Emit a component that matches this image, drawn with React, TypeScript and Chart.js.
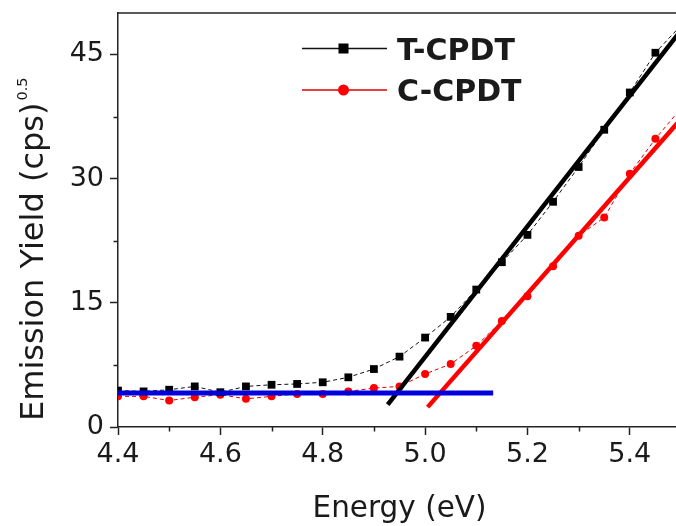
import React, { useEffect, useRef } from 'react';
import { Chart, registerables } from 'chart.js';

Chart.register(...registerables);

// ---- data ----
const energy = [4.40, 4.45, 4.50, 4.55, 4.60, 4.65, 4.70, 4.75, 4.80, 4.85, 4.90, 4.95, 5.00, 5.05, 5.10, 5.15, 5.20, 5.25, 5.30, 5.35, 5.40, 5.45, 5.50];
const tcpdt = [4.4, 4.3, 4.5, 4.9, 4.2, 4.9, 5.1, 5.2, 5.4, 6.0, 7.0, 8.5, 10.8, 13.3, 16.6, 19.9, 23.2, 27.2, 31.4, 35.9, 40.4, 45.2, 48.5];
const ccpdt = [3.7, 3.7, 3.2, 3.6, 3.9, 3.4, 3.7, 4.0, 4.0, 4.3, 4.7, 4.9, 6.4, 7.6, 9.8, 12.8, 15.8, 19.4, 23.1, 25.3, 30.6, 34.8, 38.5];
const baseX = [4.40, 5.133];
const baseY = [4.1, 4.1];
const tFitX = [4.927, 5.50];
const tFitY = [2.7, 47.9];
const cFitX = [5.005, 5.50];
const cFitY = [2.4, 37.2];
const seriesNames = ['T-CPDT', 'C-CPDT'];
const xTicks = [4.4, 4.6, 4.8, 5.0, 5.2, 5.4];
const xMinor = [4.5, 4.7, 4.9, 5.1, 5.3, 5.5];
const yTicks = [0, 15, 30, 45];
const yMinor = [7.5, 22.5, 37.5];
const xTitle = 'Energy (eV)';
const yTitle = 'Emission Yield (cps)';
const yTitleSup = '0.5';

const pts = (xs: number[], ys: number[]) => xs.map((x, i) => ({ x, y: ys[i] }));

const FONT = '"DejaVu Sans", "Liberation Sans", Arial, sans-serif';
const AXIS = '#222';
const TEXT = '#1a1a1a';

const decor = {
  id: 'decor',
  afterDraw(chart: any) {
    const { ctx, chartArea: ca, scales } = chart;
    const xs = scales.x;
    const ys = scales.y;
    ctx.save();
    ctx.strokeStyle = AXIS;
    ctx.lineWidth = 1.5;
    // top frame
    ctx.beginPath();
    ctx.moveTo(ca.left, ca.top);
    ctx.lineTo(ca.right, ca.top);
    ctx.stroke();
    // minor ticks
    ctx.beginPath();
    xMinor.forEach((v) => {
      const px = Math.round(xs.getPixelForValue(v)) + 0.5;
      ctx.moveTo(px, ca.bottom);
      ctx.lineTo(px, ca.bottom + 4.5);
    });
    yMinor.forEach((v) => {
      const py = Math.round(ys.getPixelForValue(v)) + 0.5;
      ctx.moveTo(ca.left - 4.5, py);
      ctx.lineTo(ca.left, py);
    });
    ctx.stroke();

    // axis titles
    ctx.fillStyle = TEXT;
    ctx.font = `29.5px ${FONT}`;
    ctx.textAlign = 'center';
    ctx.textBaseline = 'alphabetic';
    ctx.fillText(xTitle, (ca.left + ca.right) / 2, 517);

    ctx.save();
    ctx.translate(42.5, 421);
    ctx.rotate(-Math.PI / 2);
    ctx.textAlign = 'left';
    ctx.font = `32px ${FONT}`;
    ctx.fillText(yTitle, 0, 0);
    const w = ctx.measureText(yTitle).width;
    ctx.font = `14.5px ${FONT}`;
    ctx.fillText(yTitleSup, w + 2, -15.5);
    ctx.restore();

    // legend
    const rows = [48.5, 90];
    const metas = [chart.data.datasets[3], chart.data.datasets[4]];
    metas.forEach((ds: any, i: number) => {
      const y = rows[i];
      ctx.strokeStyle = ds.borderColor;
      ctx.lineWidth = 1.5;
      ctx.setLineDash([]);
      ctx.beginPath();
      ctx.moveTo(302, y);
      ctx.lineTo(387, y);
      ctx.stroke();
      ctx.fillStyle = ds.backgroundColor;
      if (i === 0) {
        ctx.fillRect(338.5, y - 5, 10, 10);
      } else {
        ctx.beginPath();
        ctx.arc(343.5, y, 5.5, 0, Math.PI * 2);
        ctx.fill();
      }
      ctx.fillStyle = TEXT;
      ctx.font = `bold 30px ${FONT}`;
      ctx.textAlign = 'left';
      ctx.fillText(seriesNames[i], 397, y + 11);
    });
    ctx.restore();
  },
};

export default function App() {
  const ref = useRef<HTMLCanvasElement | null>(null);

  useEffect(() => {
    if (!ref.current) return;
    const chart = new Chart(ref.current, {
      type: 'line',
      data: {
        datasets: [
          {
            label: 'baseline',
            data: pts(baseX, baseY),
            borderColor: '#0000dc',
            borderWidth: 5,
            pointRadius: 0,
          },
          {
            label: 'T-CPDT fit',
            data: pts(tFitX, tFitY),
            borderColor: '#000000',
            borderWidth: 4.5,
            pointRadius: 0,
          },
          {
            label: 'C-CPDT fit',
            data: pts(cFitX, cFitY),
            borderColor: '#ff0000',
            borderWidth: 4.5,
            pointRadius: 0,
          },
          {
            label: seriesNames[0],
            data: pts(energy, tcpdt),
            borderColor: '#111111',
            backgroundColor: '#000000',
            borderWidth: 1,
            borderDash: [4, 3],
            pointStyle: 'rect',
            pointRadius: 5.5,
            pointBorderWidth: 0,
          },
          {
            label: seriesNames[1],
            data: pts(energy, ccpdt),
            borderColor: '#e00000',
            backgroundColor: '#ff0000',
            borderWidth: 1,
            borderDash: [4, 3],
            pointStyle: 'circle',
            pointRadius: 4,
            pointBorderWidth: 0,
          },
        ],
      },
      options: {
        responsive: false,
        animation: false,
        events: [],
        layout: { padding: { left: 0, top: 13, right: 19, bottom: 0 } },
        plugins: { legend: { display: false }, tooltip: { enabled: false } },
        scales: {
          x: {
            type: 'linear',
            min: 4.4,
            max: 5.5,
            afterBuildTicks: (s: any) => {
              s.ticks = xTicks.map((v) => ({ value: v }));
            },
            afterFit: (s: any) => {
              s.height = 99;
              s.paddingLeft = 0;
              s.paddingRight = 0;
            },
            ticks: {
              font: { family: FONT, size: 27 },
              color: TEXT,
              padding: 4,
              maxRotation: 0,
              callback: (v: any) => Number(v).toFixed(1),
            },
            grid: { drawOnChartArea: false, drawTicks: true, tickLength: 8, tickColor: AXIS, tickWidth: 1.5 },
            border: { display: true, color: AXIS, width: 1.5 },
          },
          y: {
            type: 'linear',
            min: 0,
            max: 50,
            afterBuildTicks: (s: any) => {
              s.ticks = yTicks.map((v) => ({ value: v }));
            },
            afterFit: (s: any) => {
              s.width = 118;
              s.paddingTop = 0;
              s.paddingBottom = 0;
            },
            ticks: {
              font: { family: FONT, size: 27 },
              color: TEXT,
              padding: 6,
              callback: (v: any) => String(v),
            },
            grid: { drawOnChartArea: false, drawTicks: true, tickLength: 8, tickColor: AXIS, tickWidth: 1.5 },
            border: { display: true, color: AXIS, width: 1.5 },
          },
        },
      },
      plugins: [decor],
    });
    return () => chart.destroy();
  }, []);

  return (
    <div style={{ position: 'fixed', left: 0, top: 0, width: 676, height: 526, overflow: 'hidden', background: '#fff' }}>
      <canvas ref={ref} width={700} height={526} style={{ display: 'block', width: 700, height: 526 }} />
    </div>
  );
}
